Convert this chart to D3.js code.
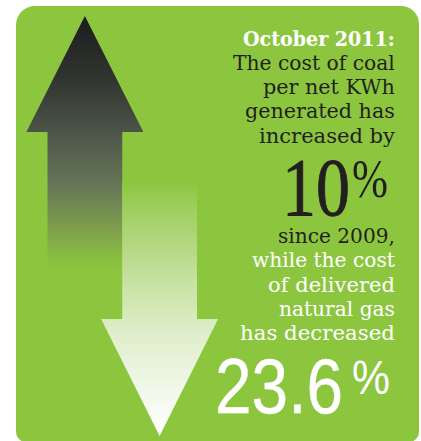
<!DOCTYPE html>
<html>
<head>
<meta charset="utf-8">
<script src="https://cdn.jsdelivr.net/npm/d3@7"></script>
<style>
  html, body { margin: 0; padding: 0; background: #ffffff; }
  svg { display: block; }
</style>
</head>
<body>
<svg id="chart" width="421" height="441"></svg>
<script>
// ---- data -------------------------------------------------------------
const fuels = ["coal", "natural gas"];
const changes = [10, -23.6];            // % change in cost since 2009
const dateLabel = "October 2011:";
const coalLines = ["The cost of coal", "per net KWh", "generated has", "increased by"];
const sinceLabel = "since 2009,";
const gasLines = ["while the cost", "of delivered", "natural gas", "has decreased"];

// ---- layout -----------------------------------------------------------
const green = "#8cc63f", ink = "#231f20";
const svg = d3.select("#chart");
const defs = svg.append("defs");

// panel with rounded corners
function roundedPanel(x0, y0, x1, y1, rtl, rtr, rbr, rbl) {
  const p = d3.path();
  p.moveTo(x0 + rtl, y0);
  p.lineTo(x1 - rtr, y0);
  p.arcTo(x1, y0, x1, y0 + rtr, rtr);
  p.lineTo(x1, y1 - rbr);
  p.arcTo(x1, y1, x1 - rbr, y1, rbr);
  p.lineTo(x0 + rbl, y1);
  p.arcTo(x0, y1, x0, y1 - rbl, rbl);
  p.lineTo(x0, y0 + rtl);
  p.arcTo(x0, y0, x0 + rtl, y0, rtl);
  p.closePath();
  return p.toString();
}
svg.append("path")
  .attr("d", roundedPanel(16, 6, 419, 442, 19, 18, 10, 10))
  .attr("fill", green);

// one column per fuel for the arrow shafts
const x = d3.scaleBand().domain(fuels).range([47.5, 197]).padding(0);
const dir = d3.scaleThreshold().domain([0]).range(["down", "up"]);

// gradients
const gUp = defs.append("linearGradient").attr("id", "gUp")
  .attr("gradientUnits", "userSpaceOnUse")
  .attr("x1", 0).attr("x2", 0).attr("y1", 16).attr("y2", 270);
[[0, "#1c1c1d"], [0.25, "#313530"], [0.46, "#4d5548"], [0.66, "#667558"],
 [0.84, "#7e9f4c"], [0.96, "#8ac03f"], [1, green]]
  .forEach(([o, c]) => gUp.append("stop").attr("offset", o).attr("stop-color", c));

const gDown = defs.append("linearGradient").attr("id", "gDown")
  .attr("gradientUnits", "userSpaceOnUse")
  .attr("x1", 0).attr("x2", 0).attr("y1", 182).attr("y2", 436);
[[0, green], [0.06, "#98cb52"], [0.2, "#acd576"], [0.4, "#c8e2a3"],
 [0.6, "#dfeecb"], [0.8, "#f0f7e7"], [1, "#ffffff"]]
  .forEach(([o, c]) => gDown.append("stop").attr("offset", o).attr("stop-color", c));

// arrow outline: shaft in its band, head wider, tip on the band centre
function arrowPath(fuel, change) {
  const x0 = x(fuel), x1 = x0 + x.bandwidth(), cx = (x0 + x1) / 2;
  const headHalf = 58.5;
  const p = d3.path();
  if (dir(change) === "up") {
    const tip = 16, base = 132, end = 270;
    p.moveTo(cx, tip);
    p.lineTo(cx + headHalf, base);
    p.lineTo(x1, base);
    p.lineTo(x1, end);
    p.lineTo(x0, end);
    p.lineTo(x0, base);
    p.lineTo(cx - headHalf, base);
  } else {
    const tip = 436, base = 319, start = 182;
    p.moveTo(x0, start);
    p.lineTo(x1, start);
    p.lineTo(x1, base);
    p.lineTo(cx + headHalf, base);
    p.lineTo(cx, tip);
    p.lineTo(cx - headHalf, base);
    p.lineTo(x0, base);
  }
  p.closePath();
  return p.toString();
}

svg.append("g").selectAll("path")
  .data(fuels.map((f, i) => ({ fuel: f, change: changes[i] })))
  .join("path")
  .attr("d", d => arrowPath(d.fuel, d.change))
  .attr("fill", d => dir(d.change) === "up" ? "url(#gUp)" : "url(#gDown)");

// ---- text -------------------------------------------------------------
const right = 395;
const serif = "'DejaVu Serif', serif";
const times = "'Liberation Serif', serif";
const sans = "'Liberation Sans', Arial, sans-serif";

// text placed at (left, baseline) and squeezed horizontally to a given width
function fitted(txt, left, baseline, width, o) {
  const t = svg.append("text")
    .attr("x", 0).attr("y", 0)
    .attr("font-family", o.family || serif)
    .attr("font-weight", o.weight || "normal")
    .attr("font-size", o.size)
    .attr("fill", o.fill)
    .text(txt);
  if (o.stroke) t.attr("stroke", o.fill).attr("stroke-width", o.stroke);
  const natural = t.node().getComputedTextLength();
  t.attr("transform", `translate(${left},${baseline}) scale(${width / natural},1)`);
  return t;
}
const line = (txt, baseline, width, o) => fitted(txt, right - width, baseline, width, o);

line(dateLabel, 45.5, 152, { size: 19.5, weight: "bold", fill: "#ffffff" });

const coalWidths = [162, 132, 150, 136];
const coalBase = [70, 94.2, 118.4, 142.5];
coalLines.forEach((t, i) => line(t, coalBase[i], coalWidths[i], { size: 19.5, fill: ink }));

// big percentages: number plus a raised, smaller percent sign
const fmtInt = d3.format("d"), fmt1 = d3.format(".1f");
const fmtPct = v => Number.isInteger(v) ? fmtInt(v) : fmt1(v);

fitted(fmtPct(Math.abs(changes[0])), 282, 215, 68, { family: times, size: 82, fill: ink, stroke: 0.9 });
fitted("%", 352, 197, 36, { family: times, size: 54, fill: ink });

line(sinceLabel, 243, 117, { size: 19.5, fill: ink });

const gasWidths = [143, 127, 116, 155];
const gasBase = [267, 291.5, 315.5, 339.5];
gasLines.forEach((t, i) => line(t, gasBase[i], gasWidths[i], { size: 19.5, fill: "#ffffff" }));

fitted(fmtPct(Math.abs(changes[1])), 215, 413, 128, { family: sans, size: 77, fill: "#ffffff", stroke: 0.4 });
fitted("%", 352, 393.5, 38, { family: sans, size: 48, fill: "#ffffff" });
</script>
</body>
</html>
